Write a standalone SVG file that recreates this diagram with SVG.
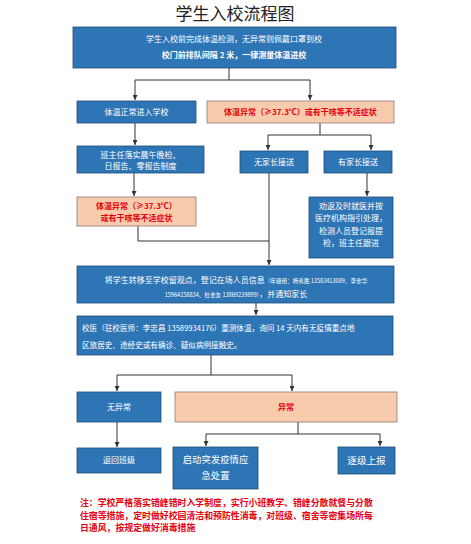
<svg xmlns="http://www.w3.org/2000/svg" width="471" height="544" viewBox="0 0 471 544">
<style>
.blue{fill:#2E75B6;stroke:#1F4E79;stroke-width:0.8}
.peach{fill:#F8CBAD;stroke:#8C7B70;stroke-width:0.8}
text{font-family:"Noto Sans CJK SC","Liberation Sans",sans-serif;text-anchor:middle}
.w{fill:#ffffff;font-size:8px}
.r{fill:#E60012;font-size:8px;font-weight:bold}
.ln{fill:none;stroke:#333333;stroke-width:1}
.note{fill:#E60012;font-size:8.9px;text-anchor:start;font-weight:bold}
</style>
<defs>
<marker id="ah" markerUnits="userSpaceOnUse" markerWidth="5" markerHeight="5" viewBox="0 0 5 5" refX="5" refY="2.5" orient="auto">
<path d="M0,0 L5,2.5 L0,5 Z" fill="#333333"/>
</marker>
</defs>
<text x="235" y="20" style="font-size:17px;fill:#222222">学生入校流程图</text>
<g id="connectors">
<path class="ln" d="M229,68 V80 M135,80 H310"/>
<path class="ln" d="M135,80 V100" marker-end="url(#ah)"/>
<path class="ln" d="M310,80 V100" marker-end="url(#ah)"/>
<path class="ln" d="M135,123 V145" marker-end="url(#ah)"/>
<path class="ln" d="M134,173 V196" marker-end="url(#ah)"/>
<path class="ln" d="M320,123 V135 M268,135 H371"/>
<path class="ln" d="M268,135 V150" marker-end="url(#ah)"/>
<path class="ln" d="M371,135 V150" marker-end="url(#ah)"/>
<path class="ln" d="M367,173 V196" marker-end="url(#ah)"/>
<path class="ln" d="M138,226 V241 H269"/>
<path class="ln" d="M269,173 V265" marker-end="url(#ah)"/>
<path class="ln" d="M256,303 V315" marker-end="url(#ah)"/>
<path class="ln" d="M211,355 V375 M117,375 H292"/>
<path class="ln" d="M117,375 V391" marker-end="url(#ah)"/>
<path class="ln" d="M292,375 V391" marker-end="url(#ah)"/>
<path class="ln" d="M117,422 V447" marker-end="url(#ah)"/>
<path class="ln" d="M298,422 V434 M206,434 H380"/>
<path class="ln" d="M206,434 V446" marker-end="url(#ah)"/>
<path class="ln" d="M380,434 V446" marker-end="url(#ah)"/>
</g>
<g id="n1">
<rect class="blue" x="73" y="27" width="323" height="41"/>
<text class="w" x="234" y="42">学生入校前完成体温检测，无异常则佩戴口罩到校</text>
<text class="w" x="234" y="58" style="font-weight:bold">校门前排队间隔 2 米，一律测量体温进校</text>
</g>
<g id="n2">
<rect class="blue" x="77" y="101" width="119" height="22"/>
<text class="w" x="136.5" y="115">体温正常进入学校</text>
</g>
<g id="n3">
<rect class="peach" x="207" y="101" width="187" height="22"/>
<text class="r" x="300.5" y="115">体温异常（≥37.3℃）或有干咳等不适症状</text>
</g>
<g id="n4">
<rect class="blue" x="77" y="146" width="127" height="27"/>
<text class="w" x="140.5" y="158">班主任落实晨午晚检、</text>
<text class="w" x="140.5" y="169">日报告、零报告制度</text>
</g>
<g id="n5">
<rect class="peach" x="77" y="197" width="119" height="29"/>
<text class="r" x="136.5" y="209">体温异常（≥37.3℃）</text>
<text class="r" x="136.5" y="221">或有干咳等不适症状</text>
</g>
<g id="n6">
<rect class="blue" x="240" y="151" width="68" height="22"/>
<text class="w" x="274" y="165">无家长接送</text>
</g>
<g id="n7">
<rect class="blue" x="324" y="151" width="68" height="22"/>
<text class="w" x="358" y="165">有家长接送</text>
</g>
<g id="n8">
<rect class="blue" x="309" y="197" width="84" height="61"/>
<text class="w" x="351" y="209">劝返及时就医并按</text>
<text class="w" x="351" y="221">医疗机构指引处理，</text>
<text class="w" x="351" y="234">检测人员登记报提</text>
<text class="w" x="351" y="246">检，班主任跟进</text>
</g>
<g id="n9">
<rect class="blue" x="77" y="266" width="317" height="37"/>
<text class="w" x="236" y="283">将学生转移至学校留观点，登记在场人员信息<tspan style="font-size:5.6px">（年级组：杨秀胜 13583413089、李金华</tspan></text>
<text class="w" x="236" y="297"><tspan style="font-size:5.6px">15964158834、杜金友 13869239899）</tspan>，并通知家长</text>
</g>
<g id="n10">
<rect class="blue" x="77" y="316" width="316" height="39"/>
<text class="w" x="82" y="331" style="text-anchor:start;font-size:7.6px">校医（驻校医师：李忠昌 13589934176）重测体温，询问 14 天内有无疫情重点地</text>
<text class="w" x="82" y="348" style="text-anchor:start;font-size:7.6px">区旅居史、途经史或有确诊、疑似病例接触史。</text>
</g>
<g id="n11">
<rect class="blue" x="77" y="392" width="84" height="30"/>
<text class="w" x="119" y="410">无异常</text>
</g>
<g id="n12">
<rect class="peach" x="175" y="392" width="222" height="30"/>
<text class="r" x="286" y="410">异常</text>
</g>
<g id="n13">
<rect class="blue" x="77" y="448" width="84" height="25"/>
<text class="w" x="119" y="463">返回班级</text>
</g>
<g id="n14">
<rect class="blue" x="173" y="447" width="85" height="42"/>
<text class="w" x="215.5" y="463" style="font-size:9.4px">启动突发疫情应</text>
<text class="w" x="215.5" y="479" style="font-size:9.4px">急处置</text>
</g>
<g id="n15">
<rect class="blue" x="338" y="447" width="57" height="27"/>
<text class="w" x="366.5" y="464" style="font-size:9.6px">逐级上报</text>
</g>
<g id="note">
<text class="note" x="80" y="506">注：学校严格落实错峰错时入学制度，实行小班教学、错峰分散就餐与分散</text>
<text class="note" x="80" y="518.5">住宿等措施，定时做好校园清洁和预防性消毒，对班级、宿舍等密集场所每</text>
<text class="note" x="80" y="531">日通风，按规定做好消毒措施</text>
</g>
</svg>
